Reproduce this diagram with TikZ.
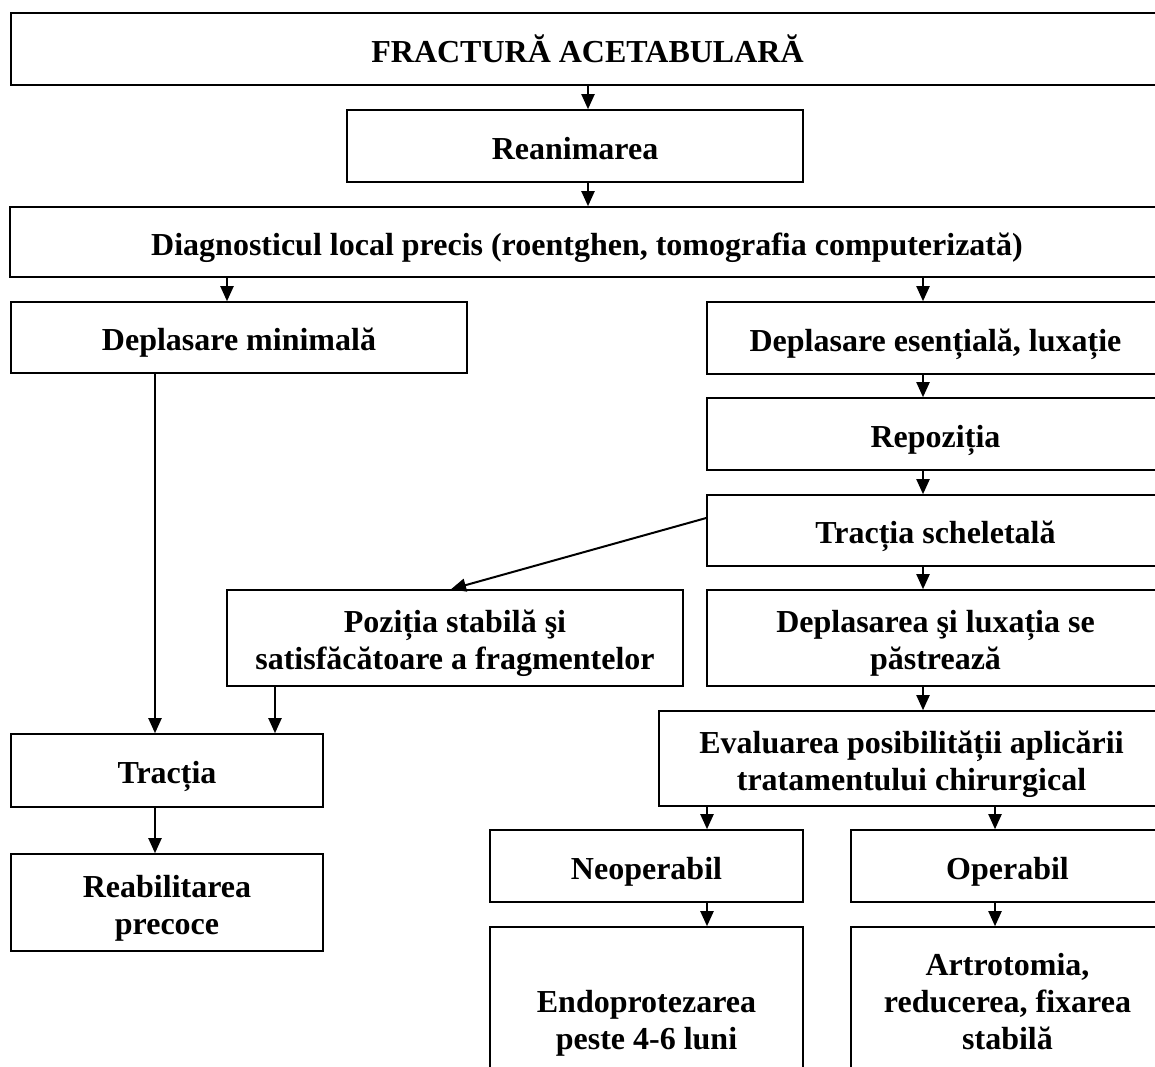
\documentclass[tikz,border=0pt]{standalone}
\usepackage{fontspec}
\setmainfont{Liberation Serif}
\usetikzlibrary{arrows.meta}
% #1 name, #2 left, #3 top, #4 right, #5 bottom, #6 number of extra lines, #7 text
\newcommand\flowbox[7]{\node[box, minimum width={#4-#2}, minimum height={#5-#3},
  text height={26pt+#6*37pt}] (#1) at ({(#2+#4)/2},{(#3+#5)/2}) {#7};}
\begin{document}
\begin{tikzpicture}[x=1pt,y=-1pt,
  box/.style={draw, line width=1.6pt, inner sep=0pt, align=center,
    text depth=0pt, font=\fontsize{32}{37}\selectfont\bfseries},
  arr/.style={line width=2pt, -{Triangle[length=15pt,width=13pt]}}]
\useasboundingbox[fill=white] (0,0) rectangle (1155,1066);
\begin{scope}
\clip (0,0) rectangle (1155,1066);
\flowbox{frac}{11}{13}{1164}{85}{0}{FRACTURĂ ACETABULARĂ}
\flowbox{rean}{347}{110}{803}{182}{0}{Reanimarea}
\flowbox{diag}{10}{207}{1164}{277}{0}{Diagnosticul local precis (roentghen, tomografia computerizată)}
\flowbox{depmin}{11}{302}{467}{373}{0}{Deplasare minimală}
\flowbox{depes}{707}{302}{1164}{374}{0}{Deplasare esențială, luxație}
\flowbox{repoz}{707}{398}{1164}{470}{0}{Repoziția}
\flowbox{tracsc}{707}{495}{1164}{566}{0}{Tracția scheletală}
\flowbox{pozit}{227}{590}{683}{686}{1}{Poziția stabilă şi\\satisfăcătoare a fragmentelor}
\flowbox{deplux}{707}{590}{1164}{686}{1}{Deplasarea şi luxația se\\păstrează}
\flowbox{eval}{659}{711}{1164}{806}{1}{Evaluarea posibilității aplicării\\tratamentului chirurgical}
\flowbox{neop}{490}{830}{803}{902}{0}{Neoperabil}
\flowbox{oper}{851}{830}{1164}{902}{0}{Operabil}
\flowbox{endo}{490}{927}{803}{1072}{2}{\mbox{}\\Endoprotezarea\\peste 4-6 luni}
\flowbox{artro}{851}{927}{1164}{1072}{2}{Artrotomia,\\reducerea, fixarea\\stabilă}
\flowbox{tractia}{11}{734}{323}{807}{0}{Tracția}
\flowbox{reabil}{11}{854}{323}{951}{1}{Reabilitarea\\precoce}
% connectors
\draw[arr] (frac.south -| 588,0) -- (rean.north -| 588,0);
\draw[arr] (rean.south -| 588,0) -- (diag.north -| 588,0);
\draw[arr] (diag.south -| 227,0) -- (depmin.north -| 227,0);
\draw[arr] (diag.south -| 923,0) -- (depes.north -| 923,0);
\draw[arr] (depes.south -| 923,0) -- (repoz.north -| 923,0);
\draw[arr] (repoz.south -| 923,0) -- (tracsc.north -| 923,0);
\draw[arr] (tracsc.south -| 923,0) -- (deplux.north -| 923,0);
\draw[arr] (deplux.south -| 923,0) -- (eval.north -| 923,0);
\draw[arr] (tracsc.west |- 0,518) -- (pozit.north -| 451,0);
\draw[arr] (depmin.south -| 155,0) -- (tractia.north -| 155,0);
\draw[arr] (pozit.south -| 275,0) -- (tractia.north -| 275,0);
\draw[arr] (tractia.south -| 155,0) -- (reabil.north -| 155,0);
\draw[arr] (eval.south -| 707,0) -- (neop.north -| 707,0);
\draw[arr] (eval.south -| 995,0) -- (oper.north -| 995,0);
\draw[arr] (neop.south -| 707,0) -- (endo.north -| 707,0);
\draw[arr] (oper.south -| 995,0) -- (artro.north -| 995,0);
\end{scope}
\end{tikzpicture}
\end{document}
